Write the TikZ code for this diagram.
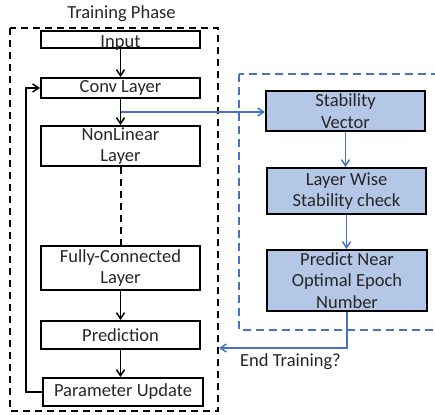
\documentclass[tikz,border=0pt]{standalone}
\usepackage{fontspec}
\setmainfont{Carlito}
\usetikzlibrary{arrows.meta,calc}
\definecolor{ppblue}{HTML}{4472C4}
\definecolor{ppfill}{HTML}{B4C7E7}
\definecolor{pptext}{HTML}{262626}
\begin{document}
\begin{tikzpicture}[x=1pt, y=-1pt,
    every node/.style={font=\fontsize{18.5}{21.7}\selectfont, text=pptext},
    layer/.style={draw=black, line width=2pt, inner sep=0pt, align=center,
      minimum width=159pt},
    stab/.style={layer, fill=ppfill},
    flow/.style={line width=1.5pt, -{Straight Barb[length=6pt,width=8pt]}},
    blueflow/.style={flow, ppblue}]
  \clip (0,0) rectangle (435,414);
  % Training phase
  \node (train) at (121.5,14) {Training Phase};
  \draw[line width=2pt, dash pattern=on 7pt off 5pt] (10,28) rectangle (218,411);
  \node[layer, minimum height=17pt, text height=16pt, text depth=0pt] (input) at (120.5,39.5) {Input};
  \node[layer, minimum height=20pt] (conv) at (120.5,88) {Conv Layer};
  \node[layer, minimum height=40pt] (nonlin) at (120.5,146) {NonLinear\\Layer};
  \node[layer, minimum height=44pt] (fc) at (120.5,268) {Fully-Connected\\Layer};
  \node[layer, minimum height=28pt] (pred) at (120.5,335) {Prediction};
  \node[layer, minimum height=28pt, minimum width=160pt] (update) at (123,392) {Parameter Update};
  \draw[flow] (input) -- (conv);
  \draw[flow] (conv) -- (nonlin);
  \draw[line width=2pt, dash pattern=on 7pt off 5pt] (nonlin) -- (fc);
  \draw[flow] (fc) -- (pred);
  \draw[flow] (pred.south) -- (pred.south |- update.north);
  \draw[flow] (update.west) -- ++(-16,0) |- (conv.west);

  % Stability check
  \draw[ppblue, line width=1.5pt, dash pattern=on 8pt off 5pt] (239,74) rectangle (460,330);
  \node[stab, minimum height=40pt] (vec) at (345.5,111) {Stability\\Vector};
  \node[stab, minimum height=46pt] (check) at (346.5,191) {Layer Wise\\Stability check};
  \node[stab, minimum height=61pt, minimum width=160pt] (epoch) at (347,280.5) {Predict Near\\Optimal Epoch\\Number};
  \coordinate (tap) at ($(conv.south)!0.5!(nonlin.north)$);
  \draw[blueflow] (tap) -- (tap -| vec.west);
  \draw[blueflow] (vec) -- (vec.south |- check.north);
  \draw[blueflow] (check) -- (check.south |- epoch.north);
  \coordinate (stop) at (219,348);
  \draw[blueflow] (epoch.south) |- (stop);
  \node (end) at (290.5,362) {End Training?};
\end{tikzpicture}
\end{document}
